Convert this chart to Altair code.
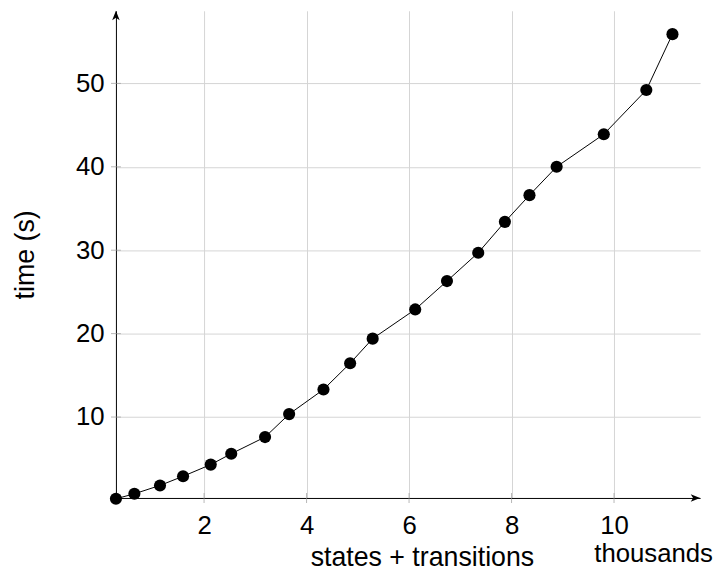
import altair as alt
import pandas as pd

# data (x in thousands of states + transitions, y in seconds)
states_k = [0.28, 0.64, 1.14, 1.59, 2.13, 2.53, 3.19, 3.66, 4.33, 4.85, 5.29,
            6.12, 6.74, 7.35, 7.87, 8.35, 8.88, 9.80, 10.63, 11.14]
time_s = [0.2, 0.8, 1.8, 2.9, 4.3, 5.6, 7.6, 10.35, 13.3, 16.45, 19.4,
          22.9, 26.3, 29.7, 33.4, 36.6, 40.0, 43.9, 49.2, 55.9]
x_ticks = [2, 4, 6, 8, 10]
y_ticks = [10, 20, 30, 40, 50]

W, H = 590, 492
FONT = "Liberation Sans"
xdom = [0.28, 11.68]
ydom = [0.3, 58.7]

df = pd.DataFrame({"x": states_k, "y": time_s})
xs = alt.Scale(domain=xdom, nice=False, zero=False)
ys = alt.Scale(domain=ydom, nice=False, zero=False)

xaxis = alt.Axis(
    values=x_ticks, title="states + transitions", grid=True,
    gridColor="#d4d4d4", gridWidth=1, ticks=False, domainColor="black",
    domainWidth=1, labelFontSize=26, labelFont=FONT, labelColor="black",
    labelPadding=15, titleFontSize=27, titleFont=FONT,
    titleFontWeight="normal", titleColor="black",
    titleAnchor="middle", titleBaseline="alphabetic", titleX=309, titleY=68)
yaxis = alt.Axis(
    values=y_ticks, title="time (s)", grid=True,
    gridColor="#d4d4d4", gridWidth=1, ticks=False, domainColor="black",
    domainWidth=1, labelFontSize=26, labelFont=FONT, labelColor="black",
    labelPadding=12, titleFontSize=27, titleFont=FONT,
    titleFontWeight="normal", titleColor="black", titlePadding=36)

base = alt.Chart(df)
line = base.mark_line(color="black", strokeWidth=1).encode(
    x=alt.X("x:Q", scale=xs, axis=xaxis),
    y=alt.Y("y:Q", scale=ys, axis=yaxis),
)
pts = base.mark_circle(color="black", opacity=1, size=150).encode(
    x=alt.X("x:Q", scale=xs, axis=xaxis), y=alt.Y("y:Q", scale=ys, axis=yaxis))

ytk = alt.Chart(pd.DataFrame({"y": y_ticks})).mark_tick(
    color="#999999", size=10, thickness=1).encode(
    x=alt.value(0), y=alt.Y("y:Q", scale=ys, axis=yaxis))
xtk = alt.Chart(pd.DataFrame({"x": x_ticks})).mark_tick(
    color="#999999", size=10, thickness=1).encode(
    y=alt.value(H), x=alt.X("x:Q", scale=xs, axis=xaxis))

one = pd.DataFrame({"a": [0]})
arrow_r = alt.Chart(one).mark_point(
    shape="M0,0L-2,-0.8L-1.5,0L-2,0.8Z", filled=True, size=90,
    color="black", opacity=1).encode(x=alt.value(W), y=alt.value(H))
arrow_u = alt.Chart(one).mark_point(
    shape="M0,0L-0.8,2L0,1.5L0.8,2Z", filled=True, size=90,
    color="black", opacity=1).encode(x=alt.value(0), y=alt.value(0))

unit = alt.Chart(pd.DataFrame({"t": ["thousands"]})).mark_text(
    align="right", baseline="alphabetic", fontSize=26, font=FONT,
    color="black").encode(text="t:N", x=alt.value(W + 13), y=alt.value(H + 65))

chart = alt.layer(line, pts, ytk, xtk, arrow_r, arrow_u, unit).properties(
    width=W, height=H,
    autosize=alt.AutoSizeParams(type="none"),
    padding={"left": 109, "top": 0, "right": 13, "bottom": 77},
).configure_view(stroke=None)

chart.save("out.html", embed_options={"renderer": "svg", "actions": False})
